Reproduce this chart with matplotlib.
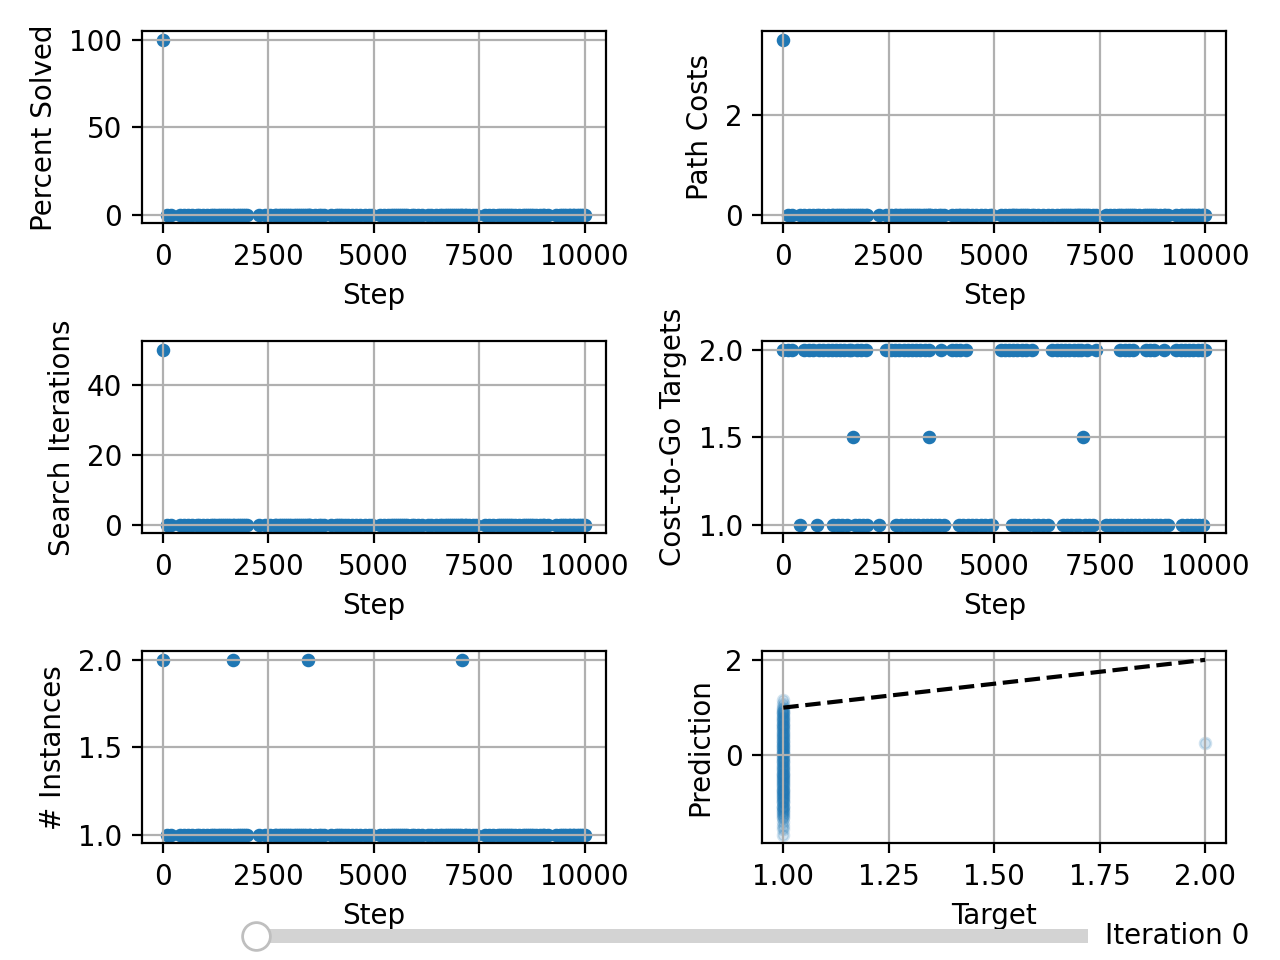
import numpy as np
import pandas as pd
import matplotlib.pyplot as plt
from matplotlib.widgets import Slider

# cost-to-go target logged at each step, grouped by its value
ctg_two_steps = [0, 100, 200, 500, 600, 700, 850, 950, 1050, 1150,
                 1250, 1350, 1450, 1550, 1600, 1750, 1850, 1950, 2430, 2550,
                 2650, 2750, 2850, 2950, 3050, 3150, 3250, 3350, 3460, 3750,
                 3990, 4100, 4200, 4330, 5150, 5250, 5350, 5450, 5550, 5650,
                 5750, 5900, 6370, 6480, 6580, 6680, 6780, 6880, 6980, 7060,
                 7190, 7420, 7990, 8090, 8190, 8290, 8590, 8690, 8780, 9020,
                 9320, 9420, 9520, 9620, 9720, 9820, 9920, 10000]
ctg_one_steps = [400, 800, 1180, 1300, 1400, 1500, 1700, 1800, 1900, 1990,
                 2280, 2680, 2800, 2900, 3000, 3100, 3200, 3300, 3400, 3500,
                 3600, 3700, 3820, 4160, 4260, 4380, 4480, 4580, 4680, 4790,
                 4890, 4950, 5420, 5500, 5600, 5700, 5800, 5950, 6050, 6150,
                 6280, 6630, 6730, 6830, 6930, 7020, 7160, 7250, 7350, 7640,
                 7740, 7840, 7940, 8040, 8140, 8240, 8340, 8440, 8540, 8640,
                 8740, 8840, 8940, 9040, 9130, 9460, 9560, 9660, 9760, 9860,
                 9960]
ctg_mixed_steps = [1660, 3450, 7100]   # two instances -> mean target 1.5

# the only non-zero / non-one entries of the other logs
solved_step0 = 100
path_cost_step0 = 3.5
search_iters_step0 = 50
two_instance_steps = [0, 1660, 3450, 7100]

# target vs prediction for the current iteration
targets_one_preds = [1.16, 1.08, 1.02, 0.97, 0.95, 0.91, 0.88, 0.86, 0.82, 0.80,
                     0.78, 0.74, 0.72, 0.70, 0.66, 0.63, 0.61, 0.57, 0.55, 0.52,
                     0.48, 0.46, 0.44, 0.40, 0.38, 0.36, 0.31, 0.29, 0.27, 0.22,
                     0.20, 0.18, 0.14, 0.12, 0.10, 0.06, 0.04, 0.02, -0.03, -0.05,
                     -0.07, -0.11, -0.13, -0.15, -0.20, -0.22, -0.24, -0.28, -0.30, -0.32,
                     -0.37, -0.39, -0.41, -0.45, -0.47, -0.49, -0.54, -0.56, -0.58, -0.62,
                     -0.64, -0.66, -0.70, -0.73, -0.75, -0.79, -0.81, -0.83, -0.87, -0.90,
                     -0.92, -0.96, -0.98, -1.00, -1.05, -1.07, -1.09, -1.14, -1.17, -1.19,
                     -1.25, -1.29, -1.32, -1.40, -1.47, -1.55, -1.66, 0.90, 0.35, -0.12,
                     -0.51, -0.85, 0.63, 0.05, -0.38, -0.72, 0.21, -0.95, 0.42, -0.26,
                     0.76, -0.60, -1.11, 0.15, -0.44, 0.57, -0.02, -0.77, 0.30, -1.22]
targets_two_preds = [0.27]

df = pd.DataFrame({
    "step": ctg_two_steps + ctg_one_steps + ctg_mixed_steps,
    "ctg": [2.0] * len(ctg_two_steps) + [1.0] * len(ctg_one_steps) + [1.5] * len(ctg_mixed_steps),
}).sort_values("step").reset_index(drop=True)
df["solved"] = np.where(df["step"] == 0, solved_step0, 0)
df["cost"] = np.where(df["step"] == 0, path_cost_step0, 0)
df["iters"] = np.where(df["step"] == 0, search_iters_step0, 0)
df["instances"] = np.where(df["step"].isin(two_instance_steps), 2, 1)

targets = [1.0] * len(targets_one_preds) + [2.0] * len(targets_two_preds)
predictions = targets_one_preds + targets_two_preds

fig, axs = plt.subplots(3, 2, figsize=(6.4, 4.8), dpi=200)

panels = [(axs[0, 0], "solved", "Percent Solved"),
          (axs[0, 1], "cost", "Path Costs"),
          (axs[1, 0], "iters", "Search Iterations"),
          (axs[1, 1], "ctg", "Cost-to-Go Targets"),
          (axs[2, 0], "instances", "# Instances")]

for ax, col, name in panels:
    ax.scatter(df["step"], df[col], s=15, c="tab:blue")
    ax.set_xlabel("Step")
    ax.set_ylabel(name)
    ax.grid(True)

ax = axs[2, 1]
ax.scatter(targets, predictions, s=15, c="tab:blue", alpha=0.2)
lo, hi = min(targets), max(targets)
ax.plot([lo, hi], [lo, hi], "k--")
ax.set_xlabel("Target")
ax.set_ylabel("Prediction")
ax.grid(True)

fig.tight_layout()

slider_ax = fig.add_axes([0.2, 0.01, 0.65, 0.03])
slider = Slider(slider_ax, "", 0, 10, valinit=0, valstep=1, valfmt="Iteration %d")

fig.savefig("out.png")
